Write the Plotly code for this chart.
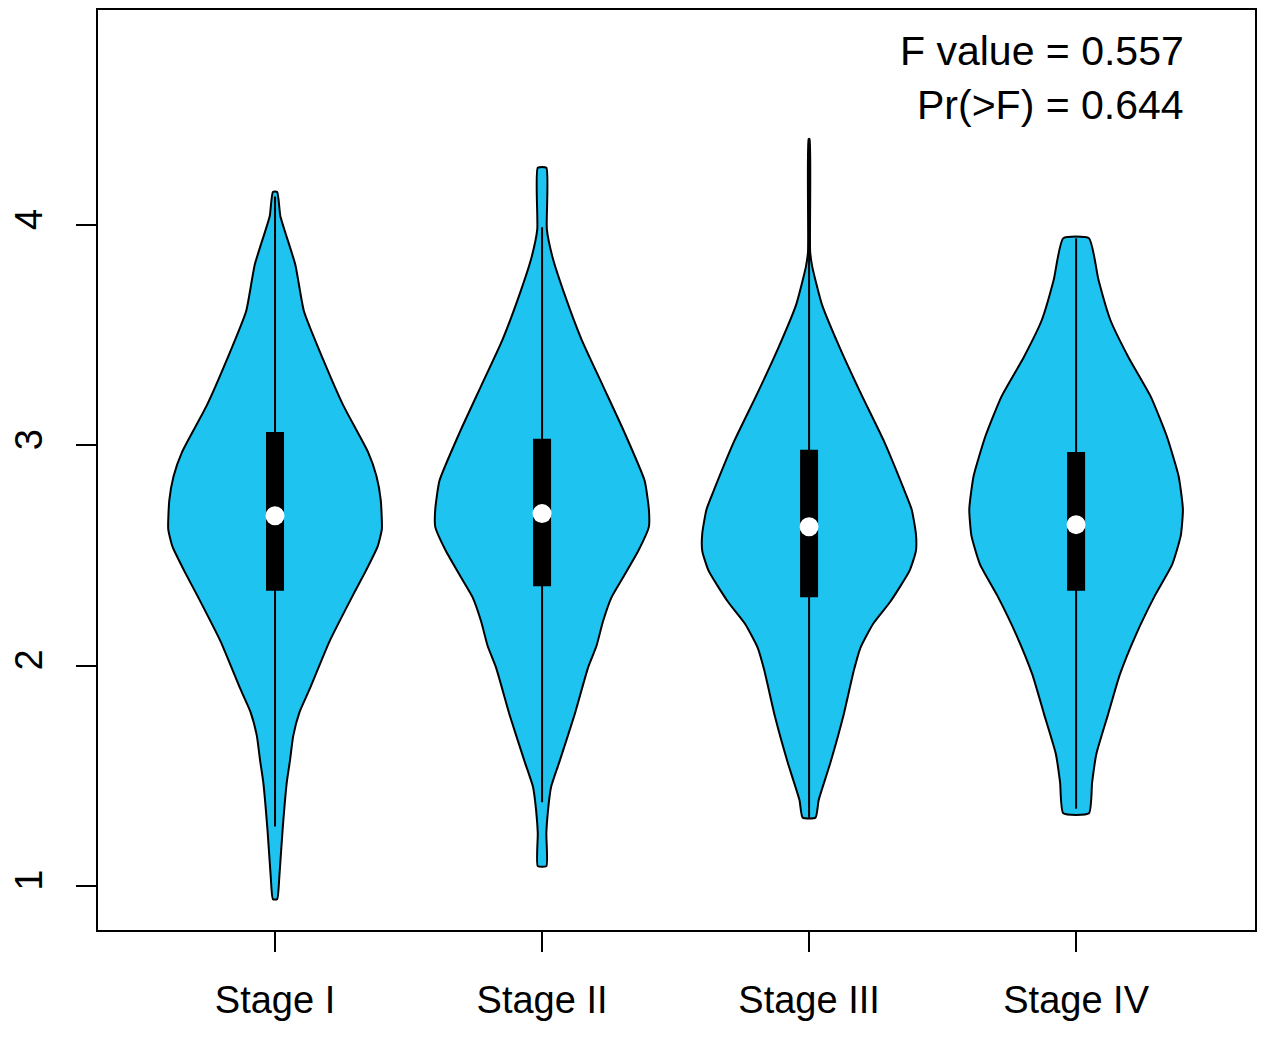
import plotly.graph_objects as go

stages = ["Stage I", "Stage II", "Stage III", "Stage IV"]

# violin outlines: y level (top -> bottom) and relative density width
stage1_y = [4.15, 4.04, 3.82, 3.61, 3.39, 3.18, 2.97, 2.86, 2.75, 2.62, 2.54, 2.43, 2.32,
            2.11, 1.90, 1.79, 1.68, 1.57, 1.47, 1.25, 1.04, 0.94]
stage1_d = [0.02, 0.05, 0.19, 0.27, 0.45, 0.64, 0.87, 0.95, 0.99, 1.00, 0.96, 0.85, 0.73,
            0.51, 0.33, 0.23, 0.17, 0.14, 0.11, 0.07, 0.04, 0.02]

stage2_y = [4.26, 3.98, 3.85, 3.70, 3.48, 3.27, 3.06, 2.84, 2.71, 2.63, 2.52, 2.41, 2.31,
            2.20, 2.09, 1.99, 1.77, 1.56, 1.45, 1.34, 1.24, 1.09]
stage2_d = [0.04, 0.045, 0.10, 0.20, 0.37, 0.57, 0.77, 0.96, 1.00, 1.00, 0.90, 0.77, 0.65,
            0.57, 0.51, 0.43, 0.30, 0.16, 0.085, 0.055, 0.04, 0.04]

stage3_y = [4.39, 3.88, 3.81, 3.64, 3.44, 3.23, 3.02, 2.81, 2.71, 2.60, 2.52, 2.43, 2.29,
            2.19, 2.08, 1.98, 1.77, 1.56, 1.39, 1.31]
stage3_d = [0.005, 0.01, 0.03, 0.12, 0.29, 0.49, 0.70, 0.88, 0.96, 1.00, 1.00, 0.94, 0.76,
            0.60, 0.48, 0.42, 0.32, 0.20, 0.09, 0.06]

stage4_y = [3.94, 3.75, 3.57, 3.40, 3.22, 3.04, 2.86, 2.71, 2.59, 2.46, 2.32, 2.14, 1.96,
            1.78, 1.60, 1.47, 1.33]
stage4_d = [0.12, 0.21, 0.32, 0.49, 0.70, 0.85, 0.96, 1.00, 0.98, 0.90, 0.74, 0.56, 0.41,
            0.30, 0.19, 0.15, 0.12]

q1 = [2.34, 2.36, 2.31, 2.34]
medians = [2.68, 2.69, 2.63, 2.64]
q3 = [3.06, 3.03, 2.98, 2.97]
whisker_lo = [1.27, 1.38, 1.31, 1.35]
whisker_hi = [4.13, 3.99, 4.39, 3.94]

f_value = 0.557
p_value = 0.644

outlines = [(stage1_y, stage1_d), (stage2_y, stage2_d), (stage3_y, stage3_d), (stage4_y, stage4_d)]

FILL = "#1fc3f0"
HALF_WIDTH = 0.4
FONT = "Liberation Sans, Arial"

fig = go.Figure()

for i, (ys, ds) in enumerate(outlines):
    pos = i + 1
    # right side top->bottom, then left side bottom->top, closed
    xs = [pos + HALF_WIDTH * d for d in ds] + [pos - HALF_WIDTH * d for d in reversed(ds)]
    yy = list(ys) + list(reversed(ys))
    xs.append(xs[0])
    yy.append(yy[0])
    fig.add_trace(go.Scatter(
        x=xs, y=yy, mode="lines", fill="toself", fillcolor=FILL,
        line=dict(color="black", width=2, shape="spline", smoothing=0.5),
        hoverinfo="skip", showlegend=False
    ))
    fig.add_trace(go.Scatter(
        x=[pos, pos], y=[whisker_lo[i], whisker_hi[i]], mode="lines",
        line=dict(color="black", width=2), hoverinfo="skip", showlegend=False
    ))
    fig.add_trace(go.Scatter(
        x=[pos, pos], y=[q1[i], q3[i]], mode="lines",
        line=dict(color="black", width=18), hoverinfo="skip", showlegend=False
    ))
    fig.add_trace(go.Scatter(
        x=[pos], y=[medians[i]], mode="markers",
        marker=dict(color="white", size=19, line=dict(width=0)),
        hoverinfo="skip", showlegend=False
    ))

fig.add_annotation(x=0.9405, y=0.955, xref="paper", yref="paper", xanchor="right", yanchor="middle",
                   text=f"F value = {f_value}", showarrow=False,
                   font=dict(size=41, color="black", family=FONT))
fig.add_annotation(x=0.9405, y=0.897, xref="paper", yref="paper", xanchor="right", yanchor="middle",
                   text=f"Pr(>F) = {p_value}", showarrow=False,
                   font=dict(size=41, color="black", family=FONT))

fig.update_layout(
    width=1272, height=1048,
    margin=dict(l=90, r=25, t=2, b=126),
    plot_bgcolor="white", paper_bgcolor="white",
    font=dict(family=FONT, size=38, color="black"),
)
fig.update_xaxes(
    range=[0.337, 4.67], tickvals=[1, 2, 3, 4], ticktext=stages,
    showgrid=False, zeroline=False, showline=True, mirror=True,
    linecolor="black", linewidth=2, automargin=False,
    ticks="outside", ticklen=20, tickwidth=2, tickcolor="black",
    ticklabelstandoff=15, tickfont=dict(size=38)
)
fig.update_yaxes(
    range=[0.80, 4.976], tickvals=[1, 2, 3, 4], tickangle=-90,
    showgrid=False, zeroline=False, showline=True, mirror=True,
    linecolor="black", linewidth=2, automargin=False,
    ticks="outside", ticklen=20, tickwidth=2, tickcolor="black",
    ticklabelstandoff=19, tickfont=dict(size=38)
)

fig.write_html("out.html")
